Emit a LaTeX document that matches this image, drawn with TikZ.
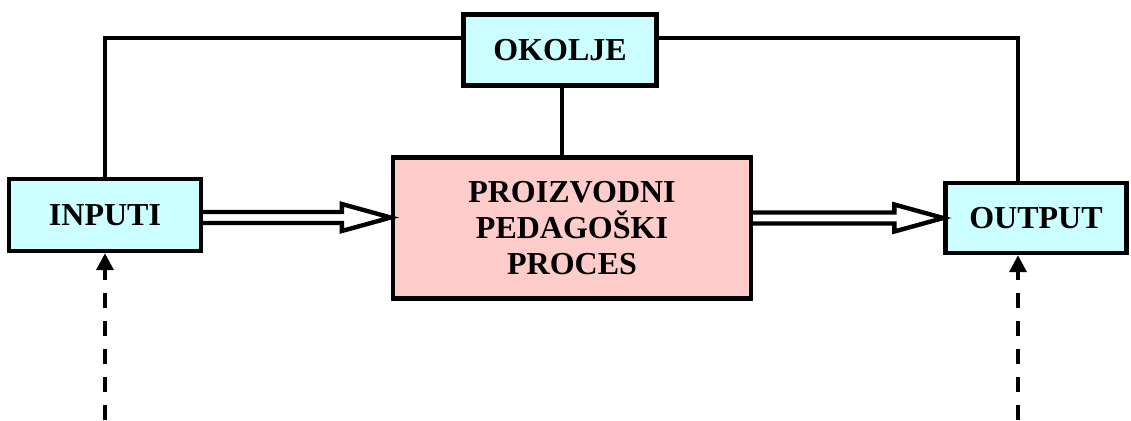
\documentclass[tikz,border=0pt]{standalone}
\usepackage{fontspec}
\setmainfont{Liberation Serif}
\usetikzlibrary{arrows.meta,calc}
\definecolor{svijetloplava}{HTML}{CCFFFF}
\definecolor{ruzicasta}{HTML}{FFCCCC}

\begin{document}
\begin{tikzpicture}[x=0.5pt,y=-0.5pt,
    kutija/.style={draw, line width=2.2pt, fill=svijetloplava, inner sep=0pt,
      align=center, font=\fontsize{16}{18}\selectfont\bfseries},
    veza/.style={line width=1.6pt},
    dvostruka/.style={line width=2.2pt, fill=white, line join=miter},
    isprekidana/.style={line width=1.8pt, dash pattern=on 7.5pt off 6.5pt,
      -{Triangle[length=8.5pt,width=8.5pt]}}]
    \useasboundingbox (0,0) rectangle (1131,420);

    % Kutije
    \node[kutija, minimum width=96.5pt, minimum height=35.5pt] (okolje) at (560,50) {OKOLJE};
    \node[kutija, minimum width=96pt, minimum height=36pt] (inputi) at (105,215) {INPUTI};
    \node[kutija, fill=ruzicasta, minimum width=179pt, minimum height=70.5pt] (proces) at (572,228)
        {PROIZVODNI\\PEDAGOŠKI\\PROCES};
    \node[kutija, minimum width=90.5pt, minimum height=35pt] (output) at (1036,218) {OUTPUT};

    % Okolje - veze
    \draw[veza] (inputi.north) |- ([yshift=6pt]okolje.west);
    \draw[veza] ([yshift=6pt]okolje.east) -| ([xshift=-9pt]output.north);
    \draw[veza] (okolje.south -| 562,0) -- (proces.north -| 562,0);

    % Dvostruke strelice
    \coordinate (a1) at ($(inputi.east)+(0,2.5)$);
    \coordinate (a2) at ($(proces.east)+(0,-10)$);
    \draw[dvostruka] ($(a1)+(0,-5.5)$) -- ($(proces.west |- a1)+(-49,-5.5)$) -- ++(0,-8)
        -- (proces.west |- a1) -- ($(proces.west |- a1)+(-49,13.5)$) -- ++(0,-8) -- ($(a1)+(0,5.5)$);
    \draw[dvostruka] ($(a2)+(0,-5.5)$) -- ($(output.west |- a2)+(-49,-5.5)$) -- ++(0,-8)
        -- (output.west |- a2) -- ($(output.west |- a2)+(-49,13.5)$) -- ++(0,-8) -- ($(a2)+(0,5.5)$);

    % Isprekidane strelice
    \coordinate (d1) at (105,420);
    \coordinate (d2) at (1018,420);
    \draw[isprekidana] (d1) -- (d1 |- inputi.south);
    \draw[isprekidana] (d2) -- (d2 |- output.south);
\end{tikzpicture}
\end{document}
